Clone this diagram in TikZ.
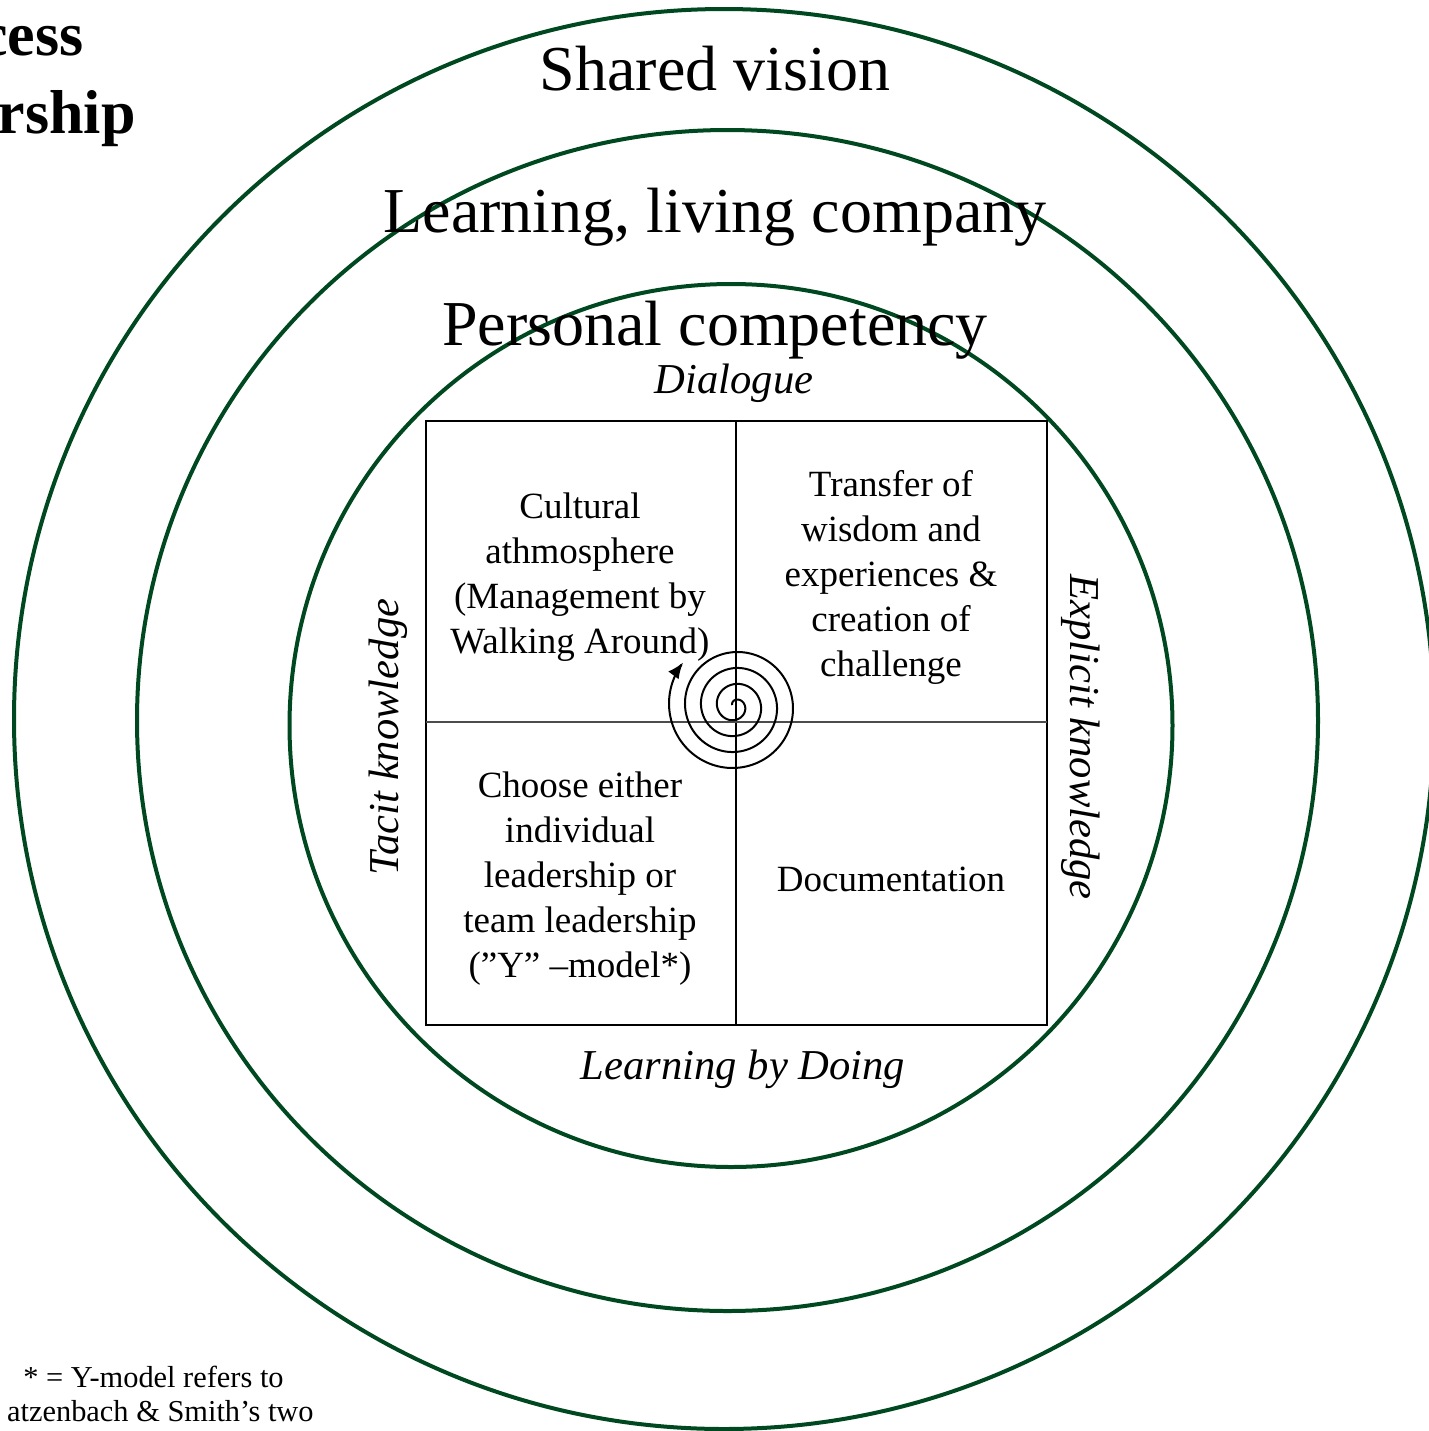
\documentclass[tikz,border=0pt]{standalone}
\usepackage{fontspec}
\setmainfont{Liberation Serif}
\usetikzlibrary{arrows.meta}
\definecolor{ringgreen}{RGB}{0,72,32}
\begin{document}
\begin{tikzpicture}[x=0.5pt,y=-0.5pt,
  ring/.style={draw=ringgreen,line width=2pt},
  grid/.style={draw=black,line width=0.6pt},
  ringlabel/.style={anchor=base,inner sep=0pt,font=\fontsize{32}{38}\selectfont},
  sidelabel/.style={inner sep=0pt,font=\fontsize{21.3}{25}\selectfont\itshape},
  quad/.style={align=center,inner sep=0pt,font=\fontsize{18.5}{22.5}\selectfont},
  boldlabel/.style={anchor=base east,inner sep=0pt,font=\fontsize{31}{37}\selectfont\bfseries},
  notelabel/.style={inner sep=0pt,font=\fontsize{15.2}{17}\selectfont}]
\useasboundingbox (0,0) rectangle (1429,1431);
% rings
\draw[ring] (724,719) circle [radius=355pt];
\draw[ring] (727.5,720.5) circle [radius=295.25pt];
\draw[ring] (731,725.5) circle [radius=220.75pt];
% quadrant grid
\coordinate (q-nw) at (426,421);
\coordinate (q-se) at (1047,1025);
\coordinate (q-n) at (736,421);
\coordinate (q-s) at (736,1025);
\coordinate (q-w) at (426,722);
\coordinate (q-e) at (1047,722);
\draw[grid] (q-nw) rectangle (q-se);
\draw[grid] (q-n) -- (q-s);
\draw[grid,draw=black!70] (q-w) -- (q-e);
% spiral
\draw[line width=1pt,-{Latex[length=8pt,width=6.5pt]}]
  plot[domain=-160:1300,samples=500,smooth,variable=\t]
  ({735+0.0444*(\t+225)*cos(\t)},{706+0.0444*(\t+225)*sin(\t)});
% ring labels
\node[ringlabel] (shared) at (715,90) {Shared vision};
\node[ringlabel] (learning) at (715,232) {Learning, living company};
\node[ringlabel] (personal) at (715,345) {Personal competency};
% side labels
\node[sidelabel,anchor=base] (dialogue) at (734,393) {Dialogue};
\node[sidelabel,anchor=base] (doing) at (743,1079) {Learning by Doing};
\node[sidelabel,rotate=90] (tacit) at (388,737) {Tacit knowledge};
\node[sidelabel,rotate=-90] (explicit) at (1081,737) {Explicit knowledge};
% quadrant texts
\node[quad] (tl) at (580,577) {Cultural\\athmosphere\\(Management by\\Walking Around)};
\node[quad] (tr) at (891,577) {Transfer of\\wisdom and\\experiences \&\\creation of\\challenge};
\node[quad] (bl) at (580,879) {Choose either\\individual\\leadership or\\team leadership\\(”Y” –model*)};
\node[quad] (br) at (891,879) {Documentation};
% texts cut at the left edge, as in the reference
\node[boldlabel] (title1) at (84,55) {cess};
\node[boldlabel] (title2) at (136,133) {rship};
\node[notelabel,anchor=base west] (note1) at (23,1387) {* = Y-model refers to};
\node[notelabel,anchor=base east] (note2) at (314,1421) {atzenbach \& Smith’s two};
\end{tikzpicture}
\end{document}
